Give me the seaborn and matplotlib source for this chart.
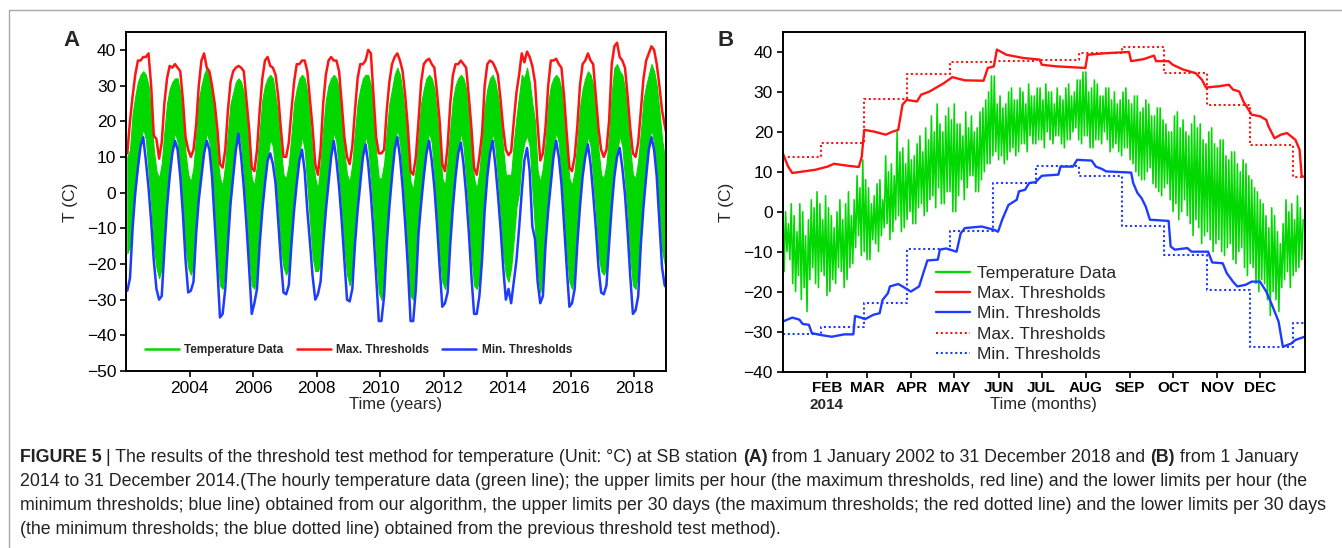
import numpy as np
import matplotlib
matplotlib.use("Agg")
import matplotlib.pyplot as plt
from matplotlib.lines import Line2D
import seaborn as sns

sns.set_style("ticks")
plt.rcParams['font.family'] = ['Liberation Sans', 'DejaVu Sans']

GREEN = '#00d800'
RED = '#ff1414'
BLUE = '#1e3cff'

# ---------------- panel A : 2002-2018, one value per month (mid-month) ----------------
years_a = np.arange(2002, 2019)

red_a = [
    11, 20, 27, 33, 37, 37, 38, 38, 39, 30, 16, 15,          # 2002
    9.5, 14, 25, 32, 35.5, 35, 36, 35, 34, 26, 15.5, 12,     # 2003
    10, 12, 19, 30, 37, 39, 35, 34, 30, 25, 18, 8,           # 2004
    7, 12, 23, 31, 34, 35, 35.5, 35, 34, 26, 18, 7,          # 2005
    6, 12, 23, 32, 37, 38, 35.5, 35, 33, 27, 18, 10,         # 2006
    10, 14, 23, 31, 36, 36, 37, 37, 34, 26, 18, 8,           # 2007
    5, 12, 25, 33, 37, 38, 37, 37, 34, 25, 15.5, 10,         # 2008
    8, 13, 23, 32, 36, 36, 37, 40, 39, 27, 15.5, 11,         # 2009
    11, 12, 23, 31, 36, 38, 39, 37, 34, 27, 18, 6,           # 2010
    5, 10, 20, 31, 36, 37, 37.5, 36, 35, 28, 20, 8,          # 2011
    6, 13, 25, 33, 36, 36, 37, 36, 35, 27, 18, 7,            # 2012
    5, 10, 16.5, 30, 36, 37, 36.5, 35, 33, 26, 18, 12,       # 2013
    10.5, 11.5, 20, 28, 33, 39, 36.5, 39.5, 38, 35.5, 31, 19,  # 2014
    9, 11, 18.5, 30, 37, 37, 37.5, 36, 35, 27, 16.5, 7,      # 2015
    6, 10, 18.5, 30, 36, 37, 39, 37, 36, 27, 18, 12,         # 2016
    10, 12, 20, 36, 41, 42, 38, 37, 35, 27, 18, 11,          # 2017
    10, 14, 23, 32, 37, 39, 41, 40, 36, 30, 23, 19,          # 2018
    17,                                                      # 31 Dec 2018
]

blue_a = [
    -27.5, -24, -10, 0, 7, 13, 15.5, 9, 1.5, -8, -19, -27,        # 2002
    -30, -29, -16, -4, 4.5, 11, 14.5, 12, 4.5, -6, -19, -28,      # 2003
    -27.5, -25, -11.5, -2, 4.5, 11, 14.5, 12, 4.5, -8, -21, -35,  # 2004
    -34, -27, -14.5, -3, 4.5, 12, 16.5, 10, 1.5, -9, -21, -34,    # 2005
    -31, -27, -14.5, -5, 2.5, 9, 11, 8, 2.5, -8, -19, -28,        # 2006
    -28.5, -26, -14.5, -5, 2.5, 9, 12, 6, -5, -14, -23.5, -30,    # 2007
    -28.5, -25, -14.5, -5, 2.5, 10, 14.5, 9, 1.5, -8, -19, -30,   # 2008
    -30.5, -27, -14.5, -5, 2.5, 10, 13.5, 8, -0.5, -11, -23.5, -36,  # 2009
    -36, -29, -14.5, -4, 4.5, 12, 15.5, 10, 1.5, -9, -21, -36,    # 2010
    -36, -27, -11.5, -3, 4.5, 11, 14.5, 9, 1.5, -9, -21, -32,     # 2011
    -31, -28, -14.5, -4, 4.5, 11, 14, 8, -0.5, -11, -23.5, -34,   # 2012
    -34, -29, -19, -5, 4.5, 11, 14.5, 8, -0.5, -10, -21, -30,     # 2013
    -27, -31, -25, -19, -10, 0, 9, 12.5, 6, -9.5, -13, -25,       # 2014
    -31, -29, -14.5, -5, 2.5, 10, 14.5, 10, 2.5, -9, -21, -32,    # 2015
    -31, -27, -14.5, -4, 4.5, 10, 13.5, 8, -0.5, -10, -21, -28,   # 2016
    -28.5, -26, -14.5, -4, 4.5, 10, 12.5, 7, -0.5, -11, -23.5, -34,  # 2017
    -33, -29, -14.5, -4, 4.5, 12, 15.5, 12, 4.5, -8, -21, -26,    # 2018
    -26.5,
]

# envelope of the hourly temperature data (monthly top / bottom of the green band)
green_hi_a = [
    10, 12, 22, 27, 31, 33, 34, 33, 30, 22, 12, 6,
    4, 8, 17, 25, 29, 31, 32, 32, 28, 21, 11, 5,
    3, 7, 16, 26, 30, 33, 35, 32, 27, 21, 10, 4,
    2, 8, 17, 25, 28, 31, 32, 31, 28, 21, 11, 4,
    2, 8, 17, 26, 30, 32, 33, 32, 27, 21, 12, 5,
    4, 8, 16, 25, 29, 32, 33, 32, 28, 20, 10, 4,
    1, 8, 18, 26, 30, 32, 33, 32, 29, 21, 11, 5,
    3, 8, 17, 25, 29, 32, 33, 33, 30, 22, 11, 4,
    4, 8, 17, 25, 29, 33, 35, 33, 28, 21, 12, 3,
    1, 7, 16, 25, 29, 32, 33, 32, 29, 22, 13, 4,
    2, 9, 18, 26, 30, 32, 33, 32, 29, 21, 11, 4,
    1, 6, 14, 24, 29, 32, 33, 31, 27, 21, 12, 5,
    5, 5, 14, 21, 27, 33, 32, 35, 31, 25, 20, 6,
    3, 7, 14, 25, 30, 32, 33, 32, 29, 21, 11, 4,
    2, 6, 14, 24, 29, 32, 34, 33, 30, 22, 12, 5,
    4, 8, 16, 28, 35, 36, 34, 33, 29, 21, 12, 5,
    4, 9, 17, 26, 30, 33, 36, 34, 30, 23, 15, 10,
    10,
]

green_lo_a = [
    -17, -15, -6, 0, 8, 14, 18, 15, 6, -3, -15, -21,
    -24, -21, -9, -1, 6, 12, 17, 14, 7, -3, -15, -21,
    -23, -20, -8, -1, 6, 12, 17, 14, 6, -4, -17, -26,
    -27, -22, -9, -2, 6, 13, 18, 14, 5, -5, -17, -26,
    -27, -22, -10, -3, 4, 10, 15, 13, 5, -4, -15, -21,
    -23, -21, -10, -3, 5, 11, 16, 12, 2, -8, -18, -22,
    -22, -20, -9, -2, 5, 12, 17, 14, 5, -4, -15, -23,
    -26, -22, -9, -2, 5, 11, 16, 13, 4, -6, -18, -28,
    -30, -24, -10, -2, 6, 13, 18, 14, 5, -5, -17, -29,
    -30, -22, -8, -1, 6, 12, 17, 14, 5, -5, -17, -25,
    -27, -23, -9, -2, 6, 12, 17, 13, 4, -6, -18, -26,
    -27, -24, -13, -3, 6, 12, 17, 13, 4, -6, -17, -23,
    -25, -21, -13, -4, 0, 10, 14, 16, 13, 1, -10, -22,
    -28, -23, -9, -2, 5, 12, 17, 14, 5, -5, -17, -25,
    -27, -22, -9, -2, 6, 11, 16, 13, 4, -5, -17, -22,
    -23, -21, -9, -2, 6, 11, 16, 13, 4, -6, -18, -26,
    -27, -22, -9, -2, 6, 13, 18, 14, 6, -4, -16, -20,
    -20,
]

year_ticks = [2004, 2006, 2008, 2010, 2012, 2014, 2016, 2018]

# ---------------- panel B : 2014, day of year ----------------
# hourly temperature: daily highs on even days, daily lows on odd days
green_hi_b = [
    4, 0, -3, 2, -1, -5, 2, 0, -6, -2,
    3, 1, 5, 2, -2, 4, 1, -1, -4, 0,
    3, -2, 2, 5, -1, 3, 9, 6, 13, 8,
    6, 2, 4, 7, 8, 3, 14, 10, 12, 9,
    20, 15, 16, 12, 18, 13, 14, 17, 19, 15,
    21, 18, 24, 20, 27, 22, 20, 24, 26, 23,
    27, 22, 22, 19, 25, 21, 24, 20, 21, 25,
    26, 28, 30, 34, 34, 27, 29, 26, 27, 30,
    31, 28, 28, 31, 30, 27, 32, 29, 29, 31,
    31, 28, 32, 30, 30, 27, 31, 29, 28, 31,
    32, 29, 30, 33, 33, 35, 35, 30, 31, 33,
    32, 29, 29, 31, 31, 28, 30, 27, 28, 30,
    31, 28, 27, 29, 29, 25, 26, 28, 27, 24,
    24, 26, 26, 23, 22, 20, 20, 24, 25, 21,
    23, 20, 19, 22, 24, 21, 22, 18, 17, 20,
    21, 17, 16, 18, 18, 14, 13, 15, 15, 12,
    10, 13, 12, 9, 8, 6, 5, 3, 2, -1,
    -4, 1, -1, -5, -8, -3, 3, 0, 2, -2,
    4, 1, -2,
]
green_lo_b = [
    -15, -10, -12, -18, -20, -16, -22, -19, -25, -17,
    -14, -18, -19, -15, -16, -21, -20, -17, -18, -14,
    -15, -19, -17, -14, -13, -9, -6, -11, -10, -12,
    -12, -7, -8, -10, -6, -4, -3, -7, -5, -2,
    -1, -5, -4, -2, 0, -3, -3, 1, 2, -1,
    0, 3, 4, 1, 6, 2, 2, 5, 5, 0,
    0, 4, 8, 3, 6, 9, 9, 5, 5, 8,
    10, 12, 12, 14, 15, 13, 14, 12, 13, 15,
    16, 14, 15, 17, 17, 15, 19, 17, 17, 18,
    18, 16, 20, 18, 17, 19, 19, 17, 16, 18,
    18, 20, 21, 18, 17, 19, 19, 16, 16, 18,
    18, 17, 20, 18, 15, 16, 17, 15, 14, 16,
    16, 13, 12, 10, 9, 8, 8, 10, 11, 7,
    6, 5, 4, 6, 7, 3, 0, 2, -2, 0,
    3, -1, -3, -6, -2, -4, -8, -6, -5, -7,
    -10, -8, -7, -10, -11, -9, -8, -12, -13, -10,
    -9, -14, -16, -13, -14, -18, -20, -17, -18, -22,
    -26, -20, -22, -25, -19, -17, -15, -19, -16, -15,
    -14, -12,
]

red_b_day = [0, 3.8, 6.7, 22.7, 31.4, 35.8, 45.9, 53.2, 55.3, 57.0, 63.4, 72.1, 76.5, 80.8, 83.8,
             86.7, 93.9, 96.8, 102.7, 107.0, 112.8, 118.6, 127.4, 140.5, 143.4, 147.7, 149.8, 156.5,
             168.1, 179.7, 181.2, 191.3, 211.7, 213.2, 226.2, 242.2, 243.7, 252.4, 259.7, 261.1,
             269.9, 272.8, 280.0, 288.8, 293.1, 296.0, 304.8, 312.0, 314.9, 319.3, 322.2, 328.0,
             333.8, 338.2, 339.7, 344.0, 348.4, 352.7, 358.6, 361.5, 363.0, 365]
red_b_val = [14.7, 11.3, 9.7, 10.5, 11.3, 12.0, 11.5, 11.2, 13.8, 20.5, 20.1, 19.3, 20.0, 20.5, 26.8,
             28.0, 27.6, 29.3, 30.1, 31.0, 32.2, 33.7, 32.9, 32.8, 36.0, 36.4, 40.6, 39.3,
             38.5, 38.1, 36.8, 36.4, 36.0, 39.3, 39.7, 40.0, 37.7, 38.2, 39.1, 37.7,
             37.7, 36.8, 35.6, 34.7, 33.1, 31.1, 31.4, 31.8, 30.6, 30.1, 27.6, 24.3,
             23.9, 23.0, 21.4, 18.4, 19.3, 19.7, 18.0, 15.5, 8.8, 8.8]

blue_b_day = [0, 6.7, 11.6, 14.0, 18.3, 20.4, 25.6, 34.3, 43.0, 49.4, 50.6, 54.7, 57.6, 63.4, 67.8,
              69.8, 73.6, 75.0, 80.8, 83.8, 89.6, 95.4, 98.3, 101.2, 108.5, 109.9, 114.3, 121.6,
              124.5, 127.4, 139.0, 147.7, 150.6, 153.5, 157.9, 163.7, 165.2, 169.5, 172.4, 176.8,
              181.2, 192.8, 194.3, 203.0, 205.9, 216.1, 219.0, 223.3, 226.2, 243.7, 245.1, 248.1,
              251.0, 253.9, 256.8, 269.9, 271.3, 274.2, 283.0, 285.9, 297.5, 300.4, 307.7, 310.6,
              314.9, 317.9, 323.7, 328.0, 333.8, 338.2, 342.6, 346.8, 349.8, 355.6, 358.6, 365]
blue_b_val = [-27.5, -26.5, -27.0, -28.1, -28.3, -30.4, -30.8, -31.3, -30.7, -30.7, -26.1, -26.5, -26.9,
              -25.8, -25.4, -22.1, -20.4, -18.7, -18.1, -18.7, -20.0, -18.7, -15.4, -12.2, -12.0,
              -9.5, -9.2, -10.0, -5.4, -4.1, -3.7, -4.5, -5.0, -2.0, 1.7, 3.0, 5.1, 5.5, 7.2, 7.4,
              9.0, 9.3, 11.3, 11.3, 13.0, 12.8, 11.3, 10.7, 10.1, 9.8, 7.2, 4.7, 3.4, 1.3, -2.0,
              -2.3, -8.7, -9.5, -9.1, -10.0, -10.0, -12.7, -12.9, -15.4, -17.5, -18.7, -18.3,
              -17.5, -17.5, -20.0, -23.7, -27.5, -33.8, -33.0, -32.1, -31.3]

# 30-day thresholds of the previous method
block_edges = [0, 27, 57, 87, 117, 147, 177, 207, 237, 267, 297, 327, 357, 365]
red_30d = [13.8, 17.3, 28.2, 34.6, 37.5, 37.7, 37.9, 39.7, 41.2, 34.7, 26.8, 16.8, 8.8]
blue_30d = [-30.7, -28.8, -22.9, -9.4, -4.9, 7.2, 11.5, 9.0, -3.5, -10.9, -19.7, -33.8, -27.8]

month_days = [31, 59, 90, 120, 151, 181, 212, 243, 273, 304, 334]
month_labels = ['FEB', 'MAR', 'APR', 'MAY', 'JUN', 'JUL', 'AUG', 'SEP', 'OCT', 'NOV', 'DEC']

# ---------------- figure ----------------
W, H = 1342, 548
fig = plt.figure(figsize=(W / 100, H / 100), dpi=100)
axA = fig.add_axes([126 / W, 1 - 371 / H, 540 / W, 339 / H])
axB = fig.add_axes([782.7 / W, 1 - 371.5 / H, 521.9 / W, 339.5 / H])

for ax in (axA, axB):
    for sp in ax.spines.values():
        sp.set_color('black')
        sp.set_linewidth(1.4)
    ax.tick_params(direction='out', length=4, width=1.2, labelsize=12.5, pad=3, colors='black')

# panel A
mid = (np.arange(12) + 0.5) / 12
t_a = np.append((years_a[:, None] + mid[None, :]).ravel(), 2019.0)
axA.fill_between(t_a, green_lo_a, green_hi_a, color=GREEN, lw=0.8, edgecolor=GREEN)
sns.lineplot(x=t_a, y=red_a, ax=axA, color=RED, linewidth=1.8, estimator=None, sort=False)
sns.lineplot(x=t_a, y=blue_a, ax=axA, color=BLUE, linewidth=1.8, estimator=None, sort=False)
axA.set_xlim(2002, 2019)
axA.set_ylim(-50, 45)
axA.set_yticks(np.arange(-50, 41, 10))
axA.set_xticks(year_ticks)
axA.set_xticklabels([str(y) for y in year_ticks])

hA = [Line2D([], [], color=GREEN, lw=1.8), Line2D([], [], color=RED, lw=1.8), Line2D([], [], color=BLUE, lw=1.8)]
axA.legend(hA, ['Temperature Data', 'Max. Thresholds', 'Min. Thresholds'], loc='lower left',
           bbox_to_anchor=(0.035, 0.045), ncol=3, frameon=False, borderpad=0, borderaxespad=0,
           prop={'weight': 'bold', 'size': 8.5}, handlelength=2.9, handletextpad=0.45, columnspacing=1.1)

# panel B
t_b = np.arange(0, 365)
g_b = np.empty(len(green_hi_b) + len(green_lo_b))
g_b[0::2] = green_hi_b
g_b[1::2] = green_lo_b
sns.lineplot(x=t_b, y=g_b, ax=axB, color=GREEN, linewidth=1.15, estimator=None, sort=False)
dot = (0, (1, 1.3))
sns.lineplot(x=block_edges, y=red_30d + [red_30d[-1]], ax=axB, color=RED, linewidth=1.5,
             linestyle=dot, drawstyle='steps-post', estimator=None, sort=False)
sns.lineplot(x=block_edges, y=blue_30d + [blue_30d[-1]], ax=axB, color=BLUE, linewidth=1.5,
             linestyle=dot, drawstyle='steps-post', estimator=None, sort=False)
sns.lineplot(x=red_b_day, y=red_b_val, ax=axB, color=RED, linewidth=1.7, estimator=None, sort=False)
sns.lineplot(x=blue_b_day, y=blue_b_val, ax=axB, color=BLUE, linewidth=1.7, estimator=None, sort=False)
axB.set_xlim(0, 365)
axB.set_ylim(-40, 45)
axB.set_yticks(np.arange(-40, 41, 10))
axB.set_xticks(month_days)
axB.set_xticklabels(month_labels, fontweight='bold', fontsize=11)

hB = [Line2D([], [], color=GREEN, lw=1.7), Line2D([], [], color=RED, lw=1.7),
      Line2D([], [], color=BLUE, lw=1.7), Line2D([], [], color=RED, lw=1.5, linestyle=dot),
      Line2D([], [], color=BLUE, lw=1.5, linestyle=dot)]
axB.legend(hB, ['Temperature Data', 'Max. Thresholds', 'Min. Thresholds', 'Max. Thresholds', 'Min. Thresholds'],
           loc='upper left', bbox_to_anchor=(0.293, 0.312), frameon=False, borderpad=0, borderaxespad=0,
           fontsize=12.5, handlelength=2.0, handletextpad=0.4, labelspacing=0.3)

for ax in (axA, axB):
    ax.set_xlabel('')
    ax.set_ylabel('')

# axis titles and panel letters
fig.text(396 / W, 1 - 404 / H, 'Time (years)', fontsize=12, ha='center', va='center')
fig.text(1043 / W, 1 - 404 / H, 'Time (months)', fontsize=12, ha='center', va='center')
fig.text(827 / W, 1 - 405 / H, '2014', fontsize=11, ha='center', va='center', fontweight='bold')
fig.text(70 / W, 1 - 202 / H, 'T (C)', fontsize=12.5, rotation=90, ha='center', va='center')
fig.text(726 / W, 1 - 202 / H, 'T (C)', fontsize=12.5, rotation=90, ha='center', va='center')
fig.text(71 / W, 1 - 40 / H, 'A', fontsize=16, fontweight='bold', ha='center', va='center')
fig.text(726 / W, 1 - 40 / H, 'B', fontsize=16, fontweight='bold', ha='center', va='center')

# frame of the figure block
fig.add_artist(Line2D([9 / W, 1], [1 - 10 / H, 1 - 10 / H], color='#a8a8a8', lw=1.0))
fig.add_artist(Line2D([9 / W, 9 / W], [0, 1 - 10 / H], color='#a8a8a8', lw=1.0))

# caption
caption = [
    [("FIGURE 5 ", True),
     ("| The results of the threshold test method for temperature (Unit: °C) at SB station ", False),
     ("(A)", True), (" from 1 January 2002 to 31 December 2018 and ", False), ("(B)", True),
     (" from 1 January", False)],
    [("2014 to 31 December 2014.(The hourly temperature data (green line); the upper limits per hour "
      "(the maximum thresholds, red line) and the lower limits per hour (the", False)],
    [("minimum thresholds; blue line) obtained from our algorithm, the upper limits per 30 days "
      "(the maximum thresholds; the red dotted line) and the lower limits per 30 days", False)],
    [("(the minimum thresholds; the blue dotted line) obtained from the previous threshold test method).", False)],
]
cap_y = [457, 481, 505, 529]

renderer = fig.canvas.get_renderer()
widest = 0
for segs in caption[1:3]:
    probe = fig.text(0, 0, segs[0][0], fontsize=10)
    widest = max(widest, probe.get_window_extent(renderer).width)
    probe.remove()
cap_size = 10 * 1310 / widest

for segs, y in zip(caption, cap_y):
    x = 20
    for s, bold in segs:
        t = fig.text(x / W, 1 - y / H, s, fontsize=cap_size,
                     fontweight='bold' if bold else 'normal', ha='left', va='center', color='#222222')
        x += t.get_window_extent(renderer).width

fig.savefig('out.png', dpi=100)
